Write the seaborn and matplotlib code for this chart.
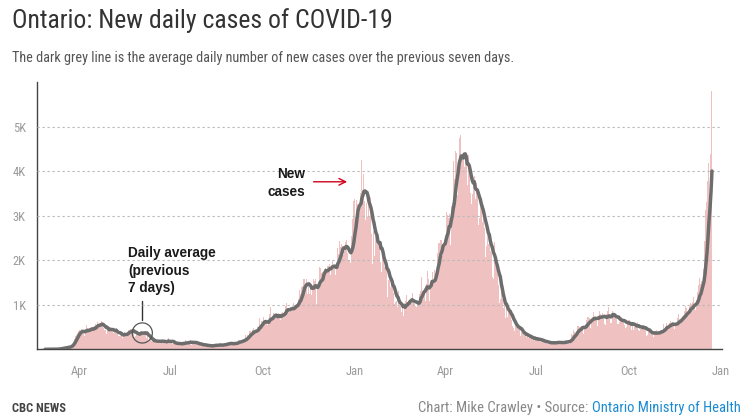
import numpy as np
import pandas as pd
import matplotlib
matplotlib.use('Agg')
import matplotlib.pyplot as plt
import matplotlib.dates as mdates
import seaborn as sns

# Casos diarios en Ontario, un arreglo por mes
start_date = '2020-02-27'
feb_2020 = [0, 1, 0]
mar_2020 = [3, 3, 2, 2, 3, 2, 5, 4, 2, 5, 6, 17, 20, 24, 32, 32, 38, 29, 43, 49,
            59, 48, 78, 85, 120, 170, 240, 300, 330, 360, 400]
apr_2020 = [426, 401, 462, 375, 408, 309, 379, 550, 478, 411, 478, 401, 421, 483, 494,
            514, 564, 502, 606, 551, 525, 510, 640, 606, 476, 437, 424, 347, 525, 459]
may_2020 = [421, 511, 434, 387, 370, 412, 399, 477, 346, 294, 308, 361, 329, 258, 346,
            391, 340, 304, 390, 427, 413, 460, 441, 412, 404, 287, 292, 383, 344, 358, 326]
jun_2020 = [404, 416, 338, 356, 345, 415, 243, 415, 167, 251, 203, 182, 184, 190, 177,
            180, 190, 173, 184, 182, 180, 161, 216, 163, 189, 111, 160, 215, 257, 153]
jul_2020 = [157, 178, 121, 154, 138, 118, 112, 118, 164, 116, 130, 111, 116, 169, 111,
            203, 164, 135, 129, 165, 203, 103, 195, 146, 137, 122, 162, 123, 89, 95, 134]
aug_2020 = [91, 98, 82, 124, 75, 76, 70, 88, 75, 70, 98, 74, 73, 104, 117, 91, 65, 110,
            102, 104, 68, 123, 97, 101, 123, 149, 115, 148, 134, 138, 114]
sep_2020 = [105, 125, 132, 148, 169, 158, 205, 185, 149, 170, 213, 232, 204, 313, 251,
            315, 293, 401, 407, 365, 425, 478, 335, 409, 435, 491, 503, 700, 554, 625]
oct_2020 = [538, 732, 653, 566, 615, 548, 583, 797, 939, 704, 649, 807, 746, 721, 783,
            712, 819, 705, 658, 821, 841, 826, 841, 978, 1042, 851, 834, 834, 934, 896, 977]
nov_2020 = [1050, 948, 987, 998, 1003, 1132, 1328, 1242, 1388, 1426, 1588, 1575, 1396,
            1581, 1248, 1487, 1249, 1417, 1210, 1418, 1588, 1534, 1589, 1009, 1373, 1478,
            1855, 1822, 1708, 1746]
dec_2020 = [1707, 1723, 1824, 1780, 1859, 1873, 1925, 1676, 1890, 1983, 1848, 1873, 1677,
            1940, 2275, 2139, 2432, 2290, 2357, 2316, 2123, 2202, 2408, 2447, 2159, 2005,
            2005, 1939, 2553, 2923, 3328]
jan_2021 = [3363, 2964, 3346, 3270, 3128, 3266, 3519, 4249, 3443, 3945, 3338, 2903, 3276,
            2961, 3326, 2998, 3422, 2578, 1913, 2655, 2093, 2632, 2662, 2359, 2417, 1958,
            1740, 2093, 2045, 1837, 1848]
feb_2021 = [1969, 1172, 1563, 1670, 1388, 1478, 1489, 1265, 1022, 1072, 1076, 945, 1300,
            964, 981, 847, 929, 745, 1038, 1087, 1228, 1058, 1087, 975, 1054, 1138, 1258, 1062]
mar_2021 = [1023, 966, 958, 994, 990, 1250, 1299, 1631, 1185, 1316, 1371, 1092, 1468, 1747,
            1568, 1074, 1508, 1553, 1745, 1479, 1791, 1699, 1571, 2169, 2380, 2380, 2453,
            2448, 2094, 2336, 2333]
apr_2021 = [2557, 3089, 3009, 2938, 3041, 2336, 3215, 3295, 4227, 3813, 4456, 4401, 3469,
            4156, 4736, 4812, 4362, 4250, 4250, 4100, 4200, 4300, 3682, 4369, 3947, 3510,
            3265, 3480, 3871, 3887]
may_2021 = [3369, 3732, 3436, 2791, 2941, 3424, 3166, 2864, 3216, 2716, 2073, 2320, 2759,
            2362, 2584, 2199, 2170, 1616, 1588, 2400, 1890, 1794, 1691, 1446, 1039, 1135,
            1273, 1135, 916, 1057, 699]
jun_2021 = [916, 733, 870, 914, 744, 663, 525, 469, 411, 590, 574, 530, 447, 442, 296, 384,
            370, 345, 318, 355, 270, 296, 255, 296, 256, 287, 200, 210, 184, 299]
jul_2021 = [200, 284, 209, 194, 170, 164, 194, 210, 179, 166, 146, 114, 153, 143, 159, 143,
            176, 130, 138, 127, 150, 192, 170, 167, 131, 119, 129, 157, 185, 218, 178]
aug_2021 = [167, 164, 127, 213, 340, 325, 423, 378, 324, 321, 513, 516, 509, 510, 523, 525,
            348, 485, 574, 650, 727, 722, 694, 486, 660, 678, 835, 740, 744, 694, 525]
sep_2021 = [656, 865, 801, 766, 807, 721, 564, 554, 794, 860, 944, 787, 600, 599, 864, 821,
            795, 750, 677, 578, 577, 624, 677, 728, 653, 686, 535, 469, 495, 628]
oct_2021 = [668, 653, 572, 429, 587, 430, 583, 573, 496, 608, 429, 411, 453, 528, 491, 554,
            492, 443, 296, 328, 473, 423, 364, 370, 326, 267, 372, 417, 438, 375, 367]
nov_2021 = [340, 378, 431, 438, 574, 471, 493, 598, 441, 519, 581, 642, 598, 599, 520, 454,
            561, 593, 711, 793, 689, 628, 627, 741, 766, 853, 964, 929, 780, 762]
dec_2021 = [964, 1031, 1009, 1053, 1184, 928, 887, 1108, 1290, 1453, 1607, 1476, 1536,
            1429, 1808, 2421, 3124, 3301, 3784, 4177, 3453, 4383, 5790]

y_ticks = [1000, 2000, 3000, 4000, 5000]
y_labels = ['1K', '2K', '3K', '4K', '5K']

# Armar la serie diaria y el promedio de 7 días
cases = (feb_2020 + mar_2020 + apr_2020 + may_2020 + jun_2020 + jul_2020 + aug_2020
         + sep_2020 + oct_2020 + nov_2020 + dec_2020 + jan_2021 + feb_2021 + mar_2021
         + apr_2021 + may_2021 + jun_2021 + jul_2021 + aug_2021 + sep_2021 + oct_2021
         + nov_2021 + dec_2021)
dates = pd.date_range(start_date, periods=len(cases), freq='D')
df = pd.DataFrame({'date': dates, 'cases': cases})
df['avg7'] = df['cases'].rolling(7, min_periods=1).mean()
df['dnum'] = mdates.date2num(df['date'])

# Fuentes
sns.set_style('white')
narrow = ['Liberation Sans Narrow', 'Roboto Condensed', 'Open Sans', 'DejaVu Sans']
plt.rcParams['font.family'] = ['Liberation Sans', 'DejaVu Sans']

W, H = 753, 419
fig = plt.figure(figsize=(W / 100, H / 100), dpi=100)
ax = fig.add_axes([37 / W, (H - 349.3) / H, (722 - 37) / W, (349.3 - 82) / H])

# Barras de casos diarios
sns.histplot(x=df['dnum'], weights=df['cases'], discrete=True, shrink=1.0,
             color='#efc1c1', alpha=1, linewidth=0, ax=ax, zorder=1)

# Línea del promedio
sns.lineplot(x=df['dnum'], y=df['avg7'], color='#6d6d6d', linewidth=2.5,
             ax=ax, zorder=3, solid_capstyle='round', solid_joinstyle='round')

ax.set_xlim(mdates.date2num(pd.Timestamp('2020-02-19')),
            mdates.date2num(pd.Timestamp('2022-01-02')))
ax.set_ylim(0, 6000)

# Ejes
ax.xaxis.set_major_locator(mdates.MonthLocator(bymonth=[1, 4, 7, 10]))
ax.xaxis.set_major_formatter(mdates.DateFormatter('%b'))
ax.set_yticks(y_ticks)
ax.set_yticklabels(y_labels)
ax.set_xlabel('')
ax.set_ylabel('')
for lab in ax.get_xticklabels() + ax.get_yticklabels():
    lab.set_family(narrow)
    lab.set_fontsize(9)
    lab.set_color('#9a9a9a')
ax.tick_params(axis='x', length=5, width=1, color='#444444', pad=6)
ax.tick_params(axis='y', length=4, width=1, color='#444444', pad=4)
ax.yaxis.grid(True, linestyle=(0, (2, 2.5)), color='#b8b8b8', linewidth=0.8, zorder=2)
ax.set_axisbelow(False)
for s in ['top', 'right']:
    ax.spines[s].set_visible(False)
for s in ['left', 'bottom']:
    ax.spines[s].set_color('#444444')
    ax.spines[s].set_linewidth(1)

# Anotaciones
ax.annotate('', xy=(mdates.date2num(pd.Timestamp('2020-12-27')), 3760),
            xytext=(mdates.date2num(pd.Timestamp('2020-11-18')), 3760),
            arrowprops=dict(arrowstyle='->', color='#d0021b', lw=1, mutation_scale=12))
ax.text(mdates.date2num(pd.Timestamp('2020-11-12')), 3730, 'New\ncases',
        ha='right', va='center', multialignment='right', fontsize=9.8,
        fontweight='bold', color='#1a1a1a', linespacing=1.3)

circ_day = pd.Timestamp('2020-06-03')
circ_val = df.loc[df['date'] == circ_day, 'avg7'].iloc[0]
ax.scatter([mdates.date2num(circ_day)], [circ_val], s=210, facecolors='none',
           edgecolors='#555555', linewidths=0.9, zorder=4)
ax.plot([mdates.date2num(circ_day) - 0.5] * 2, [1090, 650], color='#333333', lw=1)
ax.text(mdates.date2num(pd.Timestamp('2020-05-20')), 1220,
        'Daily average\n(previous\n7 days)', ha='left', va='bottom', fontsize=9.8,
        fontweight='bold', color='#1a1a1a', linespacing=1.3)

# Títulos y pie
fig.text(12 / W, 1 - 8 / H, 'Ontario: New daily cases of COVID-19', ha='left', va='top',
         fontsize=18.5, color='#333333', family=narrow)
fig.text(12 / W, 1 - 51 / H,
         'The dark grey line is the average daily number of new cases over the previous seven days.',
         ha='left', va='top', fontsize=10.3, color='#555555', family=narrow)
fig.text(12 / W, 1 - 408 / H, 'CBC NEWS', ha='left', va='center', fontsize=9,
         color='#444444', family=narrow, fontweight='bold')
src = fig.text(741 / W, 1 - 408 / H, 'Ontario Ministry of Health', ha='right', va='center',
               fontsize=10.5, color='#1a8bd2', family=narrow)
fig.canvas.draw()
bb = src.get_window_extent()
fig.text(bb.x0 / W, 1 - 408 / H, 'Chart: Mike Crawley \u2022 Source: ', ha='right',
         va='center', fontsize=10.5, color='#888888', family=narrow)

fig.savefig('out.png', dpi=100)
